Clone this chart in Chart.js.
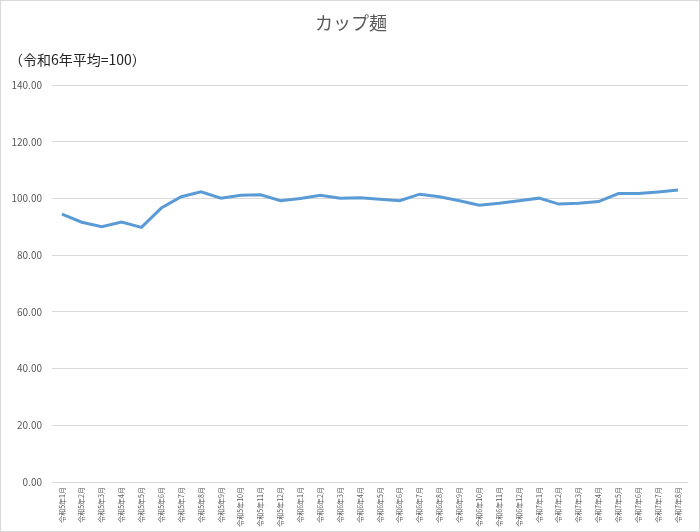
<!DOCTYPE html>
<html>
<head>
<meta charset="utf-8">
<script src="https://cdn.jsdelivr.net/npm/chart.js@4"></script>
<style>
  html, body { margin: 0; padding: 0; background: #fff; }
  #wrap { width: 700px; height: 532px; position: relative; }
</style>
</head>
<body>
<div id="wrap"><canvas id="cupChart" width="700" height="532"></canvas></div>
<script>
const months = [
  "令和5年1月", "令和5年2月", "令和5年3月", "令和5年4月", "令和5年5月", "令和5年6月",
  "令和5年7月", "令和5年8月", "令和5年9月", "令和5年10月", "令和5年11月", "令和5年12月",
  "令和6年1月", "令和6年2月", "令和6年3月", "令和6年4月", "令和6年5月", "令和6年6月",
  "令和6年7月", "令和6年8月", "令和6年9月", "令和6年10月", "令和6年11月", "令和6年12月",
  "令和7年1月", "令和7年2月", "令和7年3月", "令和7年4月", "令和7年5月", "令和7年6月",
  "令和7年7月", "令和7年8月"
];
const indexValues = [
  94.5, 91.6, 90.0, 91.7, 89.8, 96.6, 100.6, 102.3, 100.1, 101.1, 101.3, 99.2,
  100.0, 101.1, 100.1, 100.2, 99.7, 99.2, 101.5, 100.6, 99.2, 97.6, 98.3, 99.2,
  100.1, 98.0, 98.3, 98.9, 101.7, 101.7, 102.3, 103.0
];
const chartTitle = "カップ麺";
const unitNote = "（令和6年平均=100）";

const jpFont = "'Noto Sans CJK JP', 'Noto Sans', sans-serif";

// title, unit note and outer frame
const decorPlugin = {
  id: "decor",
  afterDraw(chart) {
    const c = chart.ctx;
    c.save();
    c.strokeStyle = "#d9d9d9";
    c.lineWidth = 1;
    c.strokeRect(0.5, 0.5, chart.width - 1, chart.height - 1);
    c.fillStyle = "#595959";
    c.font = "18px " + jpFont;
    c.textAlign = "center";
    c.textBaseline = "middle";
    c.fillText(chartTitle, 351, 23);
    c.fillStyle = "#262626";
    c.font = "14px " + jpFont;
    c.textAlign = "left";
    c.fillText(unitNote, 9, 60);
    c.restore();
  },
};

const ctx = document.getElementById("cupChart").getContext("2d");
new Chart(ctx, {
  type: "line",
  data: {
    labels: months,
    datasets: [
      {
        data: indexValues,
        borderColor: "#5b9bd5",
        borderWidth: 3,
        pointRadius: 0,
        tension: 0,
        fill: false,
      },
    ],
  },
  options: {
    responsive: false,
    animation: false,
    layout: { padding: { top: 85, right: 12, left: 0, bottom: 0 } },
    scales: {
      x: {
        offset: true,
        grid: { display: false, drawTicks: false },
        border: { display: false },
        ticks: {
          autoSkip: false,
          minRotation: 90,
          maxRotation: 90,
          padding: 5,
          color: "#595959",
          font: { size: 7, family: jpFont },
        },
        afterFit(scale) { scale.height = 50; },
      },
      y: {
        min: 0,
        max: 140,
        grid: { color: "#d9d9d9", drawTicks: false },
        border: { display: false },
        ticks: {
          stepSize: 20,
          padding: 10,
          color: "#595959",
          font: { size: 10, family: jpFont },
          callback: (v) => v.toFixed(2),
        },
        afterFit(scale) { scale.width = 52; },
      },
    },
    plugins: {
      legend: { display: false },
      title: { display: false },
      tooltip: { enabled: false },
    },
  },
  plugins: [decorPlugin],
});
</script>
</body>
</html>
